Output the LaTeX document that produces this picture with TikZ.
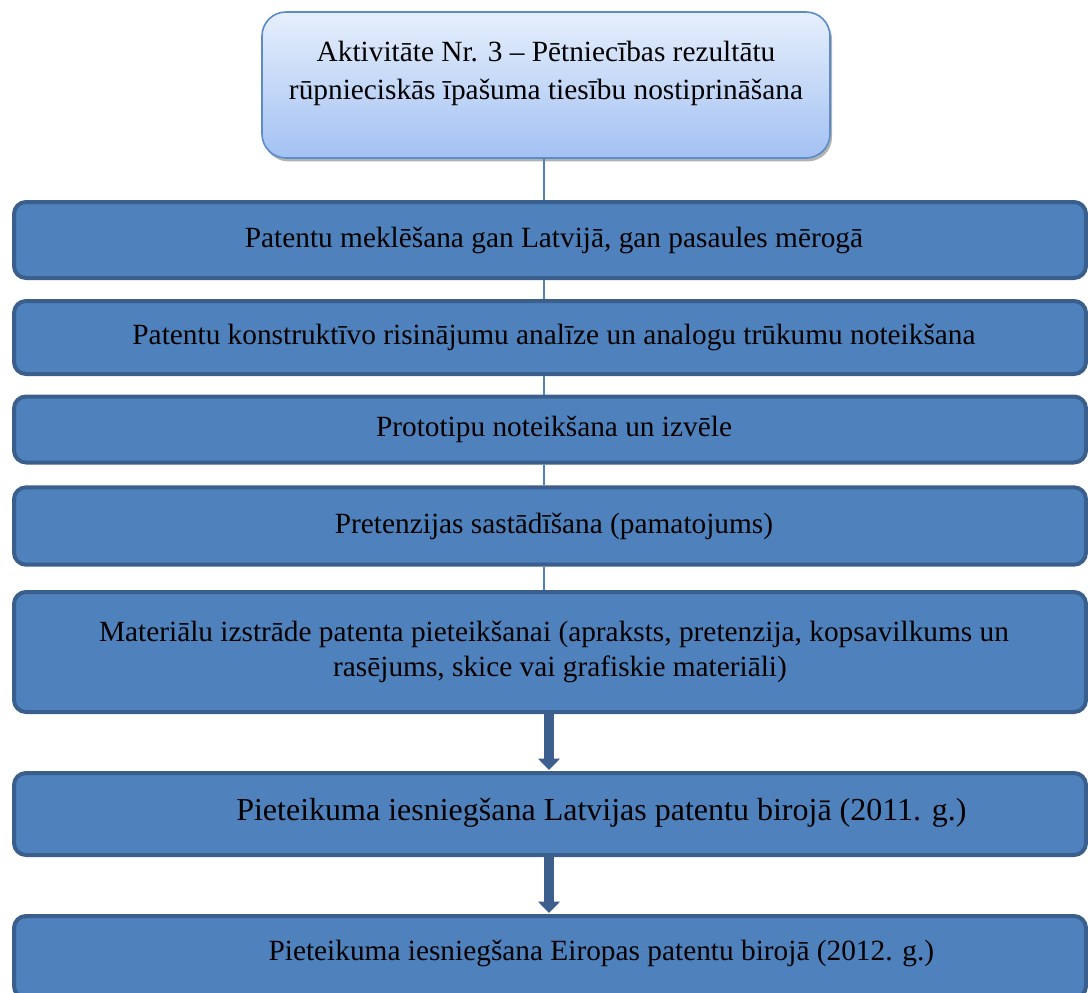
\documentclass[tikz,border=0pt]{standalone}
\usepackage{fontspec}
\setmainfont{Liberation Serif}
\usetikzlibrary{shadows,arrows.meta}
\definecolor{boxfill}{HTML}{4F81BD}
\definecolor{boxline}{HTML}{3A5F8C}
\definecolor{topline}{HTML}{5B8BC9}
\definecolor{toptop}{HTML}{E6EFFC}
\definecolor{topbot}{HTML}{A3C1F3}
\definecolor{thinline}{HTML}{4F81BD}
\definecolor{arrowcol}{HTML}{3C5F8D}
\begin{document}
\begin{tikzpicture}[x=0.75pt,y=-0.75pt,
  stepbox/.style={draw=boxline, line width=3pt, fill=boxfill, rounded corners=9pt,
    minimum width=804pt, inner sep=0pt, align=center, text=black,
    font=\fontsize{22}{26}\selectfont},
  topbox/.style={draw=topline, line width=1.2pt, top color=toptop, bottom color=topbot,
    rounded corners=18pt, minimum width=426pt, minimum height=109.5pt, inner sep=0pt,
    align=center, text=black, font=\fontsize{22}{28.5}\selectfont,
    drop shadow={shadow xshift=1.5pt, shadow yshift=-2.5pt, opacity=0.5, fill=black!60}},
  thin/.style={draw=thinline, line width=0.9pt},
  bigarrow/.style={draw=arrowcol, line width=7.5pt,
    -{Triangle[width=16pt,length=8.5pt]}}
]
\useasboundingbox (0,0) rectangle (1088,992);
\clip (0,0) rectangle (1088,992);

\node[topbox] (top) at (546,85) {Aktivitāte Nr. 3 – Pētniecības rezultātu\\rūpnieciskās īpašuma tiesību nostiprināšana\\[-6pt]\mbox{}};

\node[stepbox, minimum height=57pt] (b1) at (550,240) {\hspace*{6pt}Patentu meklēšana gan Latvijā, gan pasaules mērogā};
\node[stepbox, minimum height=54.75pt] (b2) at (550,337.5) {\hspace*{6pt}Patentu konstruktīvo risinājumu analīze un analogu trūkumu noteikšana};
\node[stepbox, minimum height=49.5pt] (b3) at (550,429.5) {\hspace*{6pt}Prototipu noteikšana un izvēle};
\node[stepbox, minimum height=58pt] (b4) at (550,526) {\hspace*{6pt}Pretenzijas sastādīšana (pamatojums)};
\node[stepbox, minimum height=90pt] (b5) at (550,652) {\hspace*{6pt}Materiālu izstrāde patenta pieteikšanai (apraksts, pretenzija, kopsavilkums un\\\hspace*{15pt}rasējums, skice vai grafiskie materiāli)};
\node[stepbox, minimum height=61.5pt, font=\fontsize{24}{27}\selectfont] (b6) at (550,814) {\hspace*{77pt}\raisebox{7pt}{Pieteikuma iesniegšana Latvijas patentu birojā (2011. g.)}};
\node[stepbox, minimum height=61.5pt] (b7) at (550,957) {\hspace*{77pt}\raisebox{9.5pt}{Pieteikuma iesniegšana Eiropas patentu birojā (2012. g.)}};

\coordinate (cx) at (544,0);
\draw[thin] (cx |- top.south) -- (cx |- b1.north);
\draw[thin] (cx |- b1.south) -- (cx |- b2.north);
\draw[thin] (cx |- b2.south) -- (cx |- b3.north);
\draw[thin] (cx |- b3.south) -- (cx |- b4.north);
\draw[thin] (cx |- b4.south) -- (cx |- b5.north);

\coordinate (ax) at (549,0);
\draw[bigarrow] (ax |- b5.south) -- ([yshift=0.75pt]ax |- b6.north);
\draw[bigarrow] (ax |- b6.south) -- ([yshift=0.75pt]ax |- b7.north);
\end{tikzpicture}
\end{document}
